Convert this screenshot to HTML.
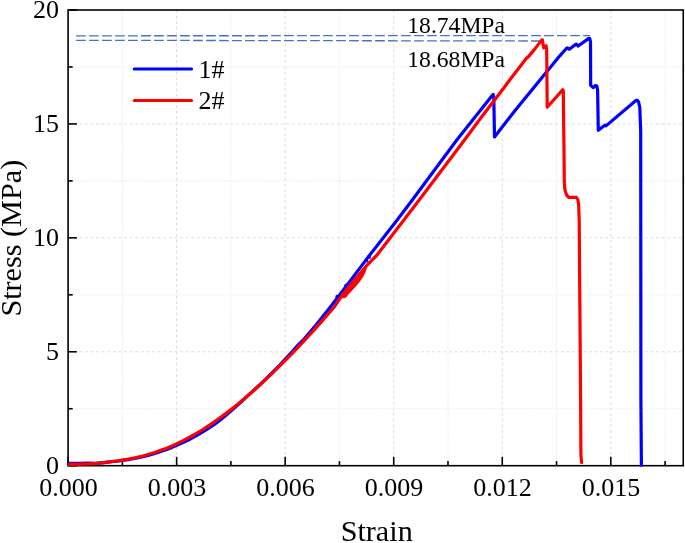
<!DOCTYPE html>
<html><head><meta charset="utf-8"><title>Stress-Strain</title>
<style>
html,body{margin:0;padding:0;background:#fff;}
body{width:685px;height:543px;overflow:hidden;font-family:"Liberation Serif",serif;}
svg{display:block;will-change:transform;}
text{font-family:"Liberation Serif",serif;fill:#000;}
.tl{font-size:26px;}
.ax{font-size:30.2px;}
.an{font-size:23.6px;}
.lg{font-size:26px;}
.gM{stroke:#dadada;stroke-width:1;stroke-dasharray:2.8 2.8;fill:none;}
.gm{stroke:#e8e8e8;stroke-width:1;stroke-dasharray:0.9 1;fill:none;}
.tk{stroke:#000;stroke-width:1.6;}
.cv{fill:none;stroke-width:3.2;stroke-linejoin:round;stroke-linecap:round;}
.ds{stroke:#4472c4;stroke-width:1.3;stroke-dasharray:9.7 3.3;fill:none;}
</style></head><body>
<svg width="685" height="543" viewBox="0 0 685 543">
<defs><clipPath id="cp"><rect x="68.10" y="10.00" width="615.15" height="456.60"/></clipPath></defs>
<rect x="0" y="0" width="685" height="543" fill="#fff"/>
<g>
<line x1="122.4" y1="10.0" x2="122.4" y2="465.7" class="gm"/>
<line x1="176.6" y1="10.0" x2="176.6" y2="465.7" class="gM"/>
<line x1="230.9" y1="10.0" x2="230.9" y2="465.7" class="gm"/>
<line x1="285.2" y1="10.0" x2="285.2" y2="465.7" class="gM"/>
<line x1="339.4" y1="10.0" x2="339.4" y2="465.7" class="gm"/>
<line x1="393.7" y1="10.0" x2="393.7" y2="465.7" class="gM"/>
<line x1="448.0" y1="10.0" x2="448.0" y2="465.7" class="gm"/>
<line x1="502.3" y1="10.0" x2="502.3" y2="465.7" class="gM"/>
<line x1="556.5" y1="10.0" x2="556.5" y2="465.7" class="gm"/>
<line x1="610.8" y1="10.0" x2="610.8" y2="465.7" class="gM"/>
<line x1="665.1" y1="10.0" x2="665.1" y2="465.7" class="gm"/>
<line x1="68.1" y1="408.7" x2="683.2" y2="408.7" class="gm"/>
<line x1="68.1" y1="351.8" x2="683.2" y2="351.8" class="gM"/>
<line x1="68.1" y1="294.8" x2="683.2" y2="294.8" class="gm"/>
<line x1="68.1" y1="237.8" x2="683.2" y2="237.8" class="gM"/>
<line x1="68.1" y1="180.9" x2="683.2" y2="180.9" class="gm"/>
<line x1="68.1" y1="123.9" x2="683.2" y2="123.9" class="gM"/>
<line x1="68.1" y1="67.0" x2="683.2" y2="67.0" class="gm"/>
</g>
<g>
<line x1="68.10" y1="465.7" x2="68.10" y2="456.8" class="tk"/>
<line x1="122.37" y1="465.7" x2="122.37" y2="461.1" class="tk"/>
<line x1="176.64" y1="465.7" x2="176.64" y2="456.8" class="tk"/>
<line x1="230.91" y1="465.7" x2="230.91" y2="461.1" class="tk"/>
<line x1="285.18" y1="465.7" x2="285.18" y2="456.8" class="tk"/>
<line x1="339.45" y1="465.7" x2="339.45" y2="461.1" class="tk"/>
<line x1="393.72" y1="465.7" x2="393.72" y2="456.8" class="tk"/>
<line x1="447.99" y1="465.7" x2="447.99" y2="461.1" class="tk"/>
<line x1="502.26" y1="465.7" x2="502.26" y2="456.8" class="tk"/>
<line x1="556.53" y1="465.7" x2="556.53" y2="461.1" class="tk"/>
<line x1="610.80" y1="465.7" x2="610.80" y2="456.8" class="tk"/>
<line x1="665.07" y1="465.7" x2="665.07" y2="461.1" class="tk"/>
<line x1="68.1" y1="465.70" x2="76.9" y2="465.70" class="tk"/>
<line x1="68.1" y1="408.74" x2="72.7" y2="408.74" class="tk"/>
<line x1="68.1" y1="351.77" x2="76.9" y2="351.77" class="tk"/>
<line x1="68.1" y1="294.81" x2="72.7" y2="294.81" class="tk"/>
<line x1="68.1" y1="237.85" x2="76.9" y2="237.85" class="tk"/>
<line x1="68.1" y1="180.89" x2="72.7" y2="180.89" class="tk"/>
<line x1="68.1" y1="123.93" x2="76.9" y2="123.93" class="tk"/>
<line x1="68.1" y1="66.96" x2="72.7" y2="66.96" class="tk"/>
<line x1="68.1" y1="10.00" x2="76.9" y2="10.00" class="tk"/>
</g>
<rect x="68.10" y="10.00" width="615.15" height="455.70" fill="none" stroke="#000" stroke-width="1.6"/>
<line x1="76.1" y1="35.8" x2="590.2" y2="35.6" class="ds"/>
<line x1="76.1" y1="40.3" x2="540.8" y2="41.0" class="ds"/>
<g clip-path="url(#cp)">
<path d="M67.0 463.3 L80.0 463.3 L88.0 463.0 L96.0 463.3 L104.0 462.7 L112.0 461.6 L118.0 461.0 L124.0 460.2 L130.0 459.3 L136.0 458.2 L142.0 457.0 L148.0 455.5 L154.0 453.8 L160.0 451.8 L166.0 449.7 L172.0 447.4 L178.0 444.8 L184.0 442.1 L190.0 439.2 L196.0 435.9 L202.0 432.4 L208.0 428.7 L214.0 424.6 L220.0 420.2 L226.0 415.3 L232.0 410.1 L238.0 404.8 L244.0 399.3 L250.0 393.7 L256.0 388.2 L262.0 382.6 L268.0 376.8 L274.0 370.9 L280.0 364.8 L286.0 358.4 L292.0 351.8 L298.0 345.1 L303.3 340.0 L316.0 325.0 L328.0 310.0 L339.6 295.0 L368.5 256.6 L397.2 220.0 L412.3 200.0 L456.8 140.0 L492.6 95.0 L493.2 94.4 L493.8 98.0 L494.5 136.9 L510.0 117.0 L515.5 110.0 L560.0 55.6 L566.6 48.3 L567.6 47.9 L569.3 49.3 L575.6 44.4 L576.4 44.2 L578.2 46.0 L588.8 38.4 L589.8 38.6 L590.5 42.0 L590.7 85.4 L593.2 87.6 L595.4 85.5 L596.8 86.0 L597.6 90.0 L598.3 130.3 L604.8 125.2 L606.0 125.9 L636.2 100.3 L637.4 100.3 L638.6 102.0 L639.8 107.5 L640.7 131.6 L640.9 400.0 L641.4 466.5" class="cv" stroke="#0000ff"/>
<circle cx="337.4" cy="296.8" r="2.1" fill="#0000ff"/><circle cx="346.4" cy="285.8" r="2.2" fill="#0000ff"/><circle cx="368.9" cy="257.0" r="2.1" fill="#0000ff"/><circle cx="366.3" cy="260.4" r="1.9" fill="#0000ff"/>
<path d="M67.0 464.3 L80.0 464.2 L88.0 463.9 L96.0 463.4 L104.0 462.7 L112.0 461.5 L118.0 460.8 L124.0 459.9 L130.0 458.8 L136.0 457.6 L142.0 456.2 L148.0 454.5 L154.0 452.7 L160.0 450.6 L166.0 448.4 L172.0 445.9 L178.0 443.1 L184.0 440.2 L190.0 437.0 L196.0 433.6 L202.0 430.0 L208.0 426.1 L214.0 422.1 L220.0 417.8 L226.0 413.4 L232.0 408.8 L238.0 403.9 L244.0 398.9 L250.0 393.8 L256.0 388.5 L262.0 383.0 L268.0 377.4 L274.0 371.6 L280.0 365.7 L286.0 359.7 L292.0 353.6 L298.0 347.3 L304.0 340.9 L310.0 334.4 L316.0 327.8 L322.0 321.1 L328.0 314.3 L334.0 307.3 L342.4 295.0 L355.0 279.5 L367.6 264.5 L377.0 255.0 L419.2 200.0 L464.5 140.0 L481.5 117.0 L500.0 93.0 L509.7 80.0 L526.8 57.8 L528.2 56.9 L534.3 49.6 L541.6 40.1 L542.4 39.9 L543.6 47.8 L546.0 45.8 L546.7 50.0 L547.2 107.2 L562.7 89.8 L563.3 91.0 L564.0 150.0 L564.3 183.0 L565.0 190.0 L566.5 194.9 L568.7 197.3 L576.4 197.3 L577.8 199.5 L578.6 204.0 L579.2 220.0 L580.6 400.0 L580.9 455.0 L581.6 462.6" class="cv" stroke="#ff0000"/>
<path d="M342.3 297 L343.6 298.0 L345.6 297.4 L348.0 294.6 L353.2 288.9 L358.2 283.3 L362.4 277.6 L365.2 272.1 L366.8 266.6 L367.2 263.5 Z" fill="#ff0000" stroke="#ff0000" stroke-width="0.8" stroke-linejoin="round"/>
</g>
<line x1="134.3" y1="69.0" x2="191.5" y2="69.0" class="cv" stroke="#0000ff"/>
<line x1="134.3" y1="100.5" x2="191.5" y2="100.5" class="cv" stroke="#ff0000"/>
<text x="198.4" y="78.0" class="lg">1#</text>
<text x="198.4" y="109.0" class="lg">2#</text>
<text x="407.3" y="32.8" class="an">18.74MPa</text>
<text x="407.3" y="66.9" class="an">18.68MPa</text>
<text x="68.4" y="496.3" text-anchor="middle" class="tl">0.000</text>
<text x="176.9" y="496.3" text-anchor="middle" class="tl">0.003</text>
<text x="285.5" y="496.3" text-anchor="middle" class="tl">0.006</text>
<text x="394.0" y="496.3" text-anchor="middle" class="tl">0.009</text>
<text x="502.6" y="496.3" text-anchor="middle" class="tl">0.012</text>
<text x="611.1" y="496.3" text-anchor="middle" class="tl">0.015</text>
<text x="58.9" y="474.2" text-anchor="end" class="tl">0</text>
<text x="58.9" y="360.3" text-anchor="end" class="tl">5</text>
<text x="58.9" y="246.3" text-anchor="end" class="tl">10</text>
<text x="58.9" y="132.4" text-anchor="end" class="tl">15</text>
<text x="58.9" y="17.7" text-anchor="end" class="tl">20</text>
<text x="376.7" y="541.2" text-anchor="middle" class="ax">Strain</text>
<text transform="translate(20.9,238.2) rotate(-90)" text-anchor="middle" class="ax">Stress (MPa)</text>
</svg>
</body></html>
